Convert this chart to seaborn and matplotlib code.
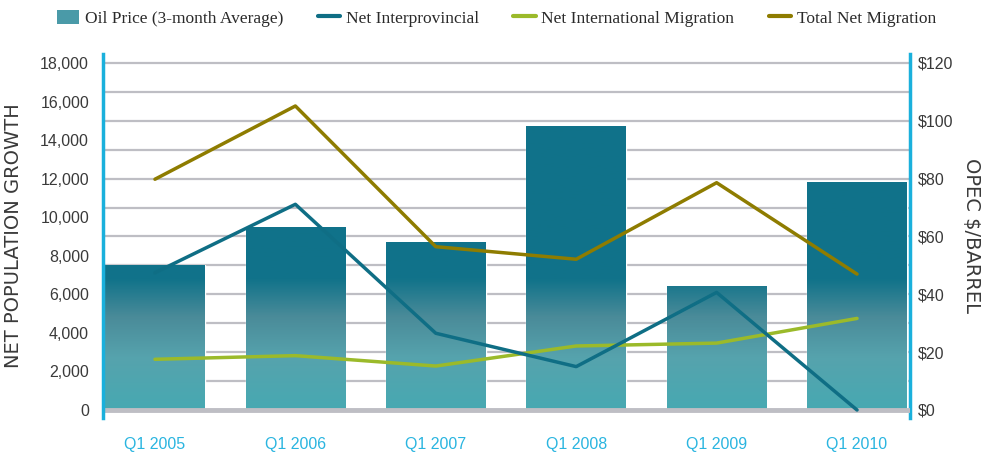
import numpy as np
import pandas as pd
import matplotlib
matplotlib.use("Agg")
import matplotlib.pyplot as plt
from matplotlib.colors import LinearSegmentedColormap
from matplotlib.patches import Patch
from matplotlib.lines import Line2D
from matplotlib.ticker import FuncFormatter, FixedLocator
import seaborn as sns

# Data
quarters = ["Q1 2005", "Q1 2006", "Q1 2007", "Q1 2008", "Q1 2009", "Q1 2010"]
oil_price = [50, 63.3, 58.1, 98.2, 42.9, 78.8]
net_interprovincial = [7120, 10670, 3980, 2250, 6100, 0]
net_international = [2630, 2820, 2280, 3320, 3470, 4750]
total_net_migration = [11970, 15770, 8470, 7820, 11790, 7050]

df = pd.DataFrame({
    "quarter": quarters,
    "pos": np.arange(len(quarters)),
    "oil": oil_price,
    "interprov": net_interprovincial,
    "international": net_international,
    "total": total_net_migration,
})

sns.set_style("white")
plt.rcParams["font.family"] = ["Liberation Sans", "DejaVu Sans"]

CYAN = "#1AB0DC"
GRID = "#BEBEC4"
TEAL = "#0F6E85"
LIME = "#9BBA2A"
OLIVE = "#8E7C00"
TEXT = "#3A3A3A"

fig = plt.figure(figsize=(9.81, 4.54), dpi=100)
ax = fig.add_axes([0.105, 0.0793, 0.8226, 0.8018])
ax2 = ax.twinx()
ax.set_zorder(ax2.get_zorder() + 1)
ax.patch.set_visible(False)

# bars on the right axis ($/barrel)
sns.barplot(data=df, x="pos", y="oil", ax=ax2, color=TEAL, width=0.71,
            saturation=1, native_scale=True)

xlim = (-0.37, 5.377)
ylim_left = (-415, 18467)
ylim_right = (ylim_left[0] / 150, ylim_left[1] / 150)
ax2.set_ylim(*ylim_right)

# gradient fill clipped to each bar
cmap = LinearSegmentedColormap.from_list("oil", [
    (0.0, "#47A9B2"),
    (18 / 120, "#56A3AD"),
    (32 / 120, "#4A8B99"),
    (45 / 120, "#11738A"),
    (1.0, "#10728A"),
])
grad = np.linspace(0, 1, 256).reshape(-1, 1)
for p in ax2.patches:
    im = ax2.imshow(grad, cmap=cmap, aspect="auto", origin="lower",
                    extent=[xlim[0], xlim[1], 0, 120], zorder=2)
    im.set_clip_path(p)
ax2.set_xlim(*xlim)
ax2.set_ylim(*ylim_right)

ax2.yaxis.set_major_locator(FixedLocator(np.arange(0, 121, 20)))
ax2.yaxis.set_minor_locator(FixedLocator(np.arange(10, 120, 20)))
ax2.yaxis.set_major_formatter(FuncFormatter(lambda v, _: f"${v:.0f}"))
ax2.grid(True, axis="y", which="both", color=GRID, lw=1.6)
ax2.set_axisbelow(True)
ax2.tick_params(axis="y", which="both", length=0, pad=6,
                labelsize=11.5, labelcolor=TEXT)
ax2.set_ylabel("OPEC $/BARREL", fontsize=14, color=TEXT, rotation=-90,
               family="DejaVu Sans")
ax2.yaxis.set_label_coords(1.088, 0.5)
ax2.set_xlabel("")

# lines on the left axis (net population growth)
sns.lineplot(data=df, x="pos", y="interprov", ax=ax, color=TEAL, lw=2.5,
             zorder=4)
sns.lineplot(data=df, x="pos", y="international", ax=ax, color=LIME, lw=2.5,
             zorder=3)
sns.lineplot(data=df, x="pos", y="total", ax=ax, color=OLIVE, lw=2.5,
             zorder=5)
ax.axhline(0, color=GRID, lw=3.5, zorder=1)

ax.set_xlim(*xlim)
ax.set_ylim(*ylim_left)
ax.yaxis.set_major_locator(FixedLocator(np.arange(0, 18001, 2000)))
ax.yaxis.set_major_formatter(FuncFormatter(lambda v, _: f"{v:,.0f}"))
ax.tick_params(axis="y", length=0, pad=10, labelsize=11.5, labelcolor=TEXT)
ax.set_ylabel("NET POPULATION GROWTH", fontsize=14, color=TEXT,
              family="DejaVu Sans")
ax.yaxis.set_label_coords(-0.099, 0.5)

ax.set_xticks(df["pos"])
ax.set_xticklabels(quarters)
ax.xaxis.set_minor_locator(FixedLocator(np.linspace(xlim[0], xlim[1], 25)[1:-1]))
ax.tick_params(axis="x", which="major", length=0, pad=14, labelsize=11.5,
               labelcolor="#2AB5E0")
ax.tick_params(axis="x", which="minor", direction="in", length=5, width=1.5,
               color=GRID)
ax.set_xlabel("")

for a in (ax, ax2):
    for s in a.spines.values():
        s.set_visible(False)
ax.spines["left"].set_visible(True)
ax.spines["left"].set_color(CYAN)
ax.spines["left"].set_linewidth(2.5)
ax2.spines["right"].set_visible(True)
ax2.spines["right"].set_color(CYAN)
ax2.spines["right"].set_linewidth(2.5)

handles = [
    Patch(facecolor="#4A9AA8", edgecolor="none"),
    Line2D([], [], color=TEAL, lw=3),
    Line2D([], [], color=LIME, lw=3),
    Line2D([], [], color=OLIVE, lw=3),
]
labels = ["Oil Price (3-month Average)", "Net Interprovincial",
          "Net International Migration", "Total Net Migration"]
fig.legend(handles, labels, loc="center", bbox_to_anchor=(0.506, 0.96),
           ncol=4, frameon=False, handlelength=1.3, handleheight=0.9,
           handletextpad=0.3, columnspacing=2.0,
           prop={"family": "Liberation Serif", "size": 12.5},
           labelcolor="#2A2A2A")

fig.savefig("out.png", dpi=100)
